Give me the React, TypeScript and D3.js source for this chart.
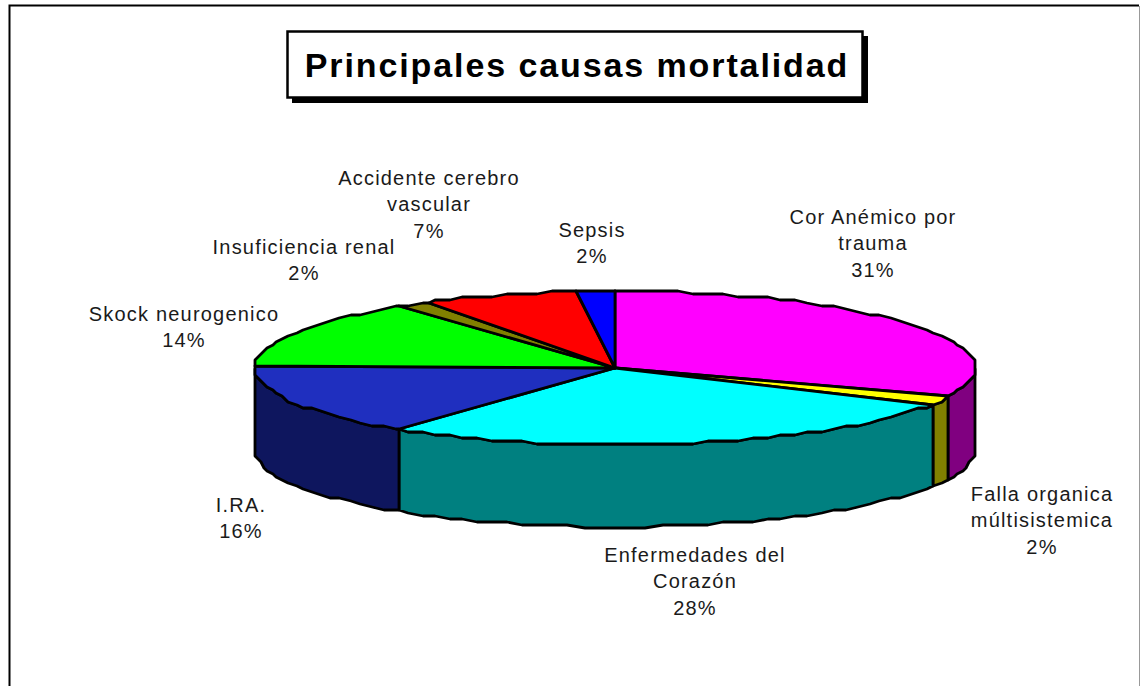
import React from "react";
import * as d3 from "d3";

// slice sizes, clockwise from 12 o'clock
const causes = [
  ["Cor Anémico por", "trauma"],
  ["Falla organica", "múltisistemica"],
  ["Enfermedades del", "Corazón"],
  ["I.RA."],
  ["Skock neurogenico"],
  ["Insuficiencia renal"],
  ["Accidente cerebro", "vascular"],
  ["Sepsis"]
];
const shares = [31.25, 1.55, 27.5, 15.3, 14.1, 1.7, 6.9, 1.7];
const percentLabels = ["31%", "2%", "28%", "16%", "14%", "2%", "7%", "2%"];
const topColors = ["#ff00ff", "#ffff00", "#00ffff", "#1f2fbf", "#00ff00", "#808000", "#ff0000", "#0000ff"];
const sideColors = ["#800080", "#808000", "#008080", "#0e165e", "#008000", "#404000", "#800000", "#000080"];
const titleText = "Principales causas mortalidad";

const width = 1140;
const height = 686;
const cx = 615;
const cy = 368;
const rx = 360;
const ry = 77;
const depth = 82;
const lineH = 26.3;

// centre x and first baseline of each label block
const labelPos = [
  [873, 224],
  [1042, 501],
  [695, 562],
  [241, 512],
  [184, 321],
  [304, 254],
  [429, 185],
  [592, 237]
];

const rim = (a: number, dy = 0): [number, number] => [
  Math.round((cx + rx * Math.sin(a)) / 3) * 3,
  Math.round((cy - ry * Math.cos(a) + dy) / 3) * 3
];

// the old renderer draws the rim as short straight pieces
const step = (2.5 * Math.PI) / 180;
const arcAngles = (a0: number, a1: number) => {
  const out = [a0];
  let a = (Math.floor(a0 / step) + 1) * step;
  while (a < a1) {
    out.push(a);
    a += step;
  }
  out.push(a1);
  return out;
};

const line = d3.line();

export default function App() {
  const slices = d3
    .pie<number>()
    .sort(null)
    .startAngle(0)
    .endAngle(2 * Math.PI)(shares);

  return (
    <svg
      width={width}
      height={height}
      style={{ position: "fixed", left: 0, top: 0, background: "#fff" }}
      fontFamily="'Liberation Sans', Arial, sans-serif"
    >
      <path d="M9.5,686V5.5H1139" fill="none" stroke="#000" strokeWidth={2} />
      <line x1={1139.5} x2={1139.5} y1={6} y2={686} stroke="#999" strokeWidth={1} />

      <rect x={292} y={36} width={576} height={67} fill="#000" />
      <rect x={287.5} y={31.5} width={575} height={66} fill="#fff" stroke="#000" strokeWidth={2.5} />
      <text x={577} y={77} textAnchor="middle" fontSize={34} fontWeight="bold" letterSpacing={1.9} fill="#000">
        {titleText}
      </text>

      {slices.map((s, i) => {
        const a0 = Math.max(s.startAngle, Math.PI / 2);
        const a1 = Math.min(s.endAngle, (3 * Math.PI) / 2);
        if (a1 <= a0) return null;
        const angles = arcAngles(a0, a1);
        const pts = [
          ...angles.map((a) => rim(a)),
          ...angles.slice().reverse().map((a) => rim(a, depth))
        ];
        return (
          <path
            key={i}
            d={line(pts) + "Z"}
            fill={sideColors[i]}
            stroke="#000"
            strokeWidth={2.8}
            strokeLinejoin="round"
          />
        );
      })}

      {slices.map((s, i) => {
        const pts = [[cx, cy], ...arcAngles(s.startAngle, s.endAngle).map((a) => rim(a))] as [number, number][];
        return (
          <path
            key={i}
            d={line(pts) + "Z"}
            fill={topColors[i]}
            stroke="#000"
            strokeWidth={2.8}
            strokeLinejoin="round"
          />
        );
      })}

      {causes.map((rows, i) => (
        <text key={i} textAnchor="middle" fontSize={20} letterSpacing={1.2} fill="#1a1a1a">
          {[...rows, percentLabels[i]].map((row, j) => (
            <tspan key={j} x={labelPos[i][0]} y={labelPos[i][1] + j * lineH}>
              {row}
            </tspan>
          ))}
        </text>
      ))}
    </svg>
  );
}
